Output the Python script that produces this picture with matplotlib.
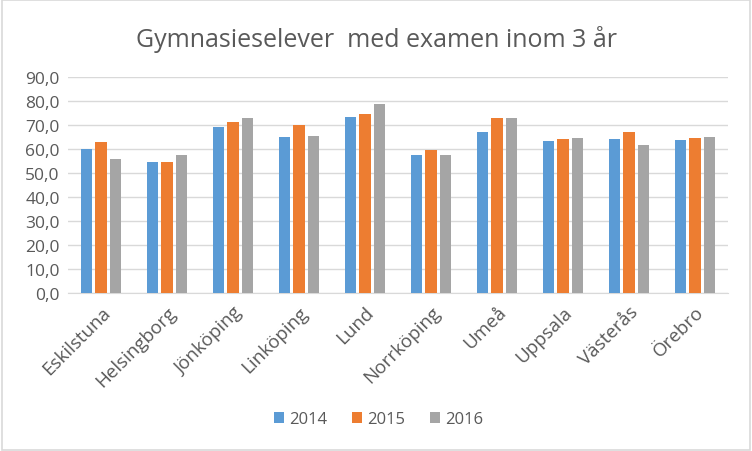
import numpy as np
import matplotlib
matplotlib.use("Agg")
import matplotlib.pyplot as plt
from matplotlib.patches import Rectangle

# Data
cities = ["Eskilstuna", "Helsingborg", "Jönköping", "Linköping", "Lund",
          "Norrköping", "Umeå", "Uppsala", "Västerås", "Örebro"]
years = ["2014", "2015", "2016"]
v2014 = [60.0, 54.6, 69.2, 65.0, 73.3, 57.5, 67.1, 63.3, 64.2, 63.8]
v2015 = [62.9, 54.6, 71.3, 70.0, 74.6, 59.7, 72.9, 64.2, 67.1, 64.6]
v2016 = [55.8, 57.5, 72.9, 65.4, 78.8, 57.5, 72.9, 64.6, 61.7, 65.0]
colors = ["#5b9bd5", "#ed7d31", "#a5a5a5"]

plt.rcParams["font.family"] = ["Open Sans", "DejaVu Sans"]
txt = "#595959"

fig = plt.figure(figsize=(7.52, 4.52), dpi=100)
ax = fig.add_axes([0.0904, 0.3496, 0.8776, 0.4778])

x = np.arange(len(cities))
w = 0.175
step = 0.22
for i, (vals, lab) in enumerate(zip([v2014, v2015, v2016], years)):
    ax.bar(x + (i - 1) * step, vals, width=w, color=colors[i], label=lab, zorder=3)

ax.set_xlim(-0.5, len(cities) - 0.5)
ax.set_ylim(0, 90)
ax.set_yticks(np.arange(0, 91, 10))
ax.set_yticklabels([f"{v:.1f}".replace(".", ",") for v in np.arange(0, 91, 10)],
                   fontsize=12.5, color=txt)
ax.set_xticks(x)
ax.set_xticklabels(cities, rotation=45, ha="right", rotation_mode="anchor",
                   fontsize=13.5, color=txt)
ax.tick_params(axis="y", length=0, pad=6)
ax.tick_params(axis="x", length=0, pad=7)
ax.grid(axis="y", color="#d9d9d9", linewidth=1, zorder=0)
for s in ["top", "right", "left"]:
    ax.spines[s].set_visible(False)
ax.spines["bottom"].set_color("#d9d9d9")

fig.text(0.5, 0.912, "Gymnasieselever  med examen inom 3 år", ha="center",
         va="center", fontsize=18, color=txt)

fig.legend(loc="center", bbox_to_anchor=(0.503, 0.07), ncol=3, frameon=False,
           fontsize=12, labelcolor=txt, handlelength=0.6, handleheight=0.6,
           columnspacing=1.5, handletextpad=0.3)

fig.patches.append(Rectangle((0.002, 0.003), 0.995, 0.994, transform=fig.transFigure,
                             fill=False, edgecolor="#d9d9d9", linewidth=1.2))

fig.savefig("out.png", dpi=100)
